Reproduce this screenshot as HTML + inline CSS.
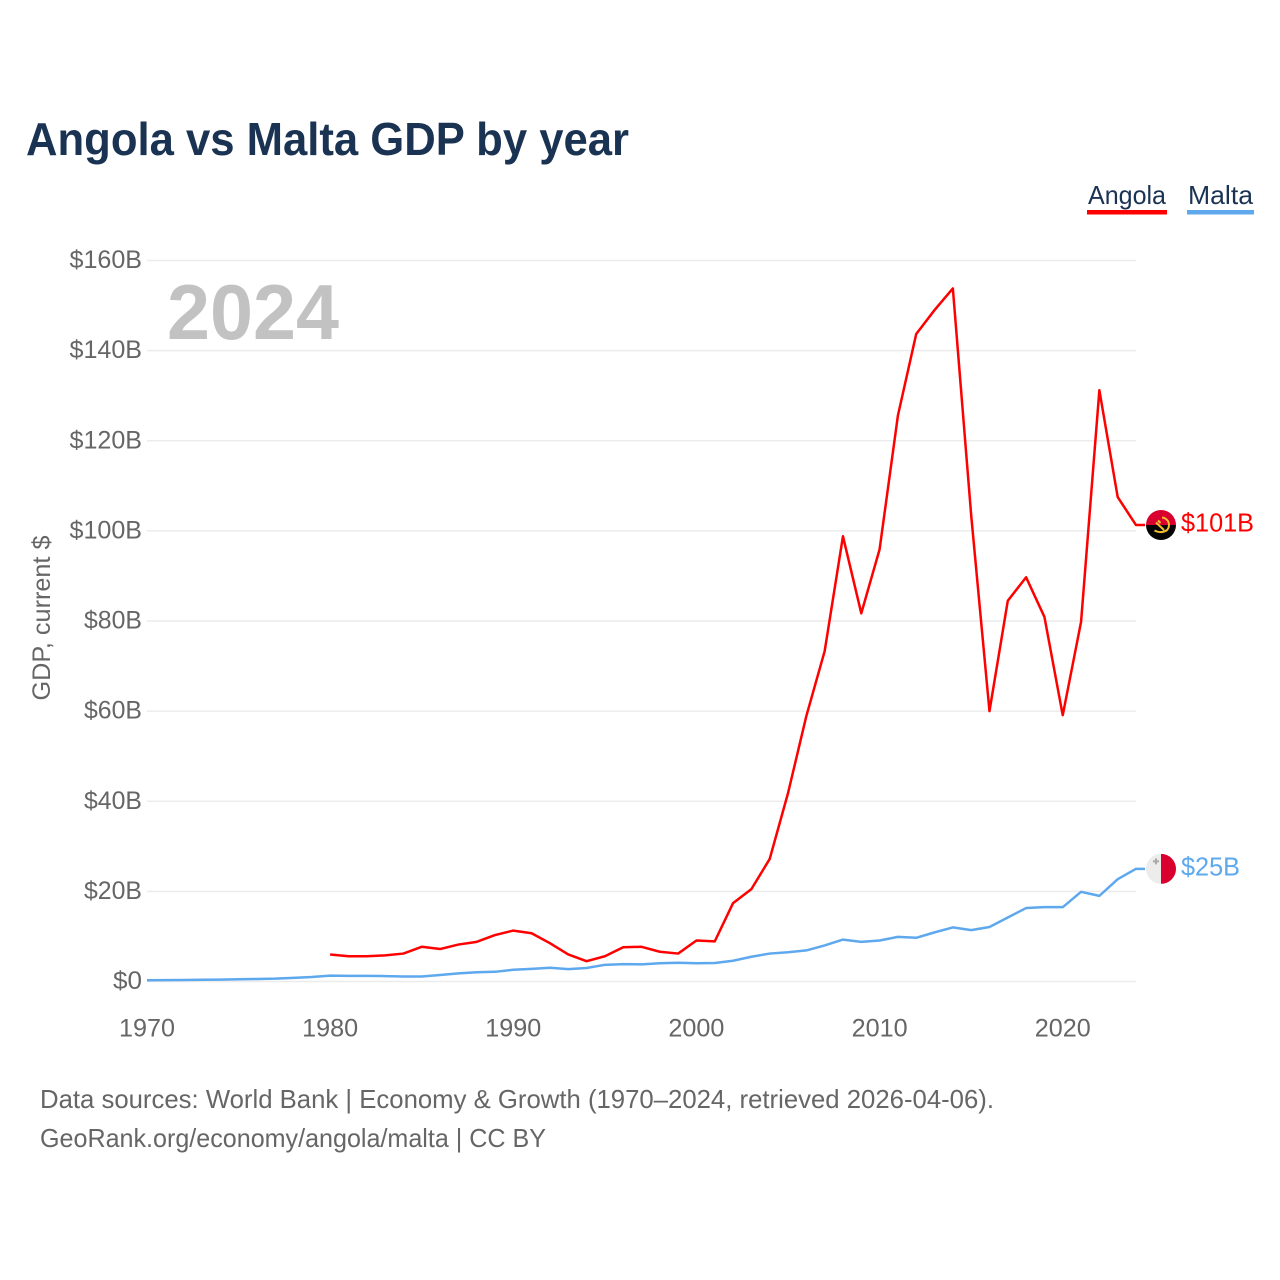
<!DOCTYPE html>
<html lang="en">
<head>
<meta charset="utf-8">
<title>Angola vs Malta GDP by year</title>
<style>
html,body{margin:0;padding:0;background:#fff;width:1280px;height:1280px;overflow:hidden}
svg{display:block}
text{font-family:"Liberation Sans",sans-serif}
</style>
</head>
<body>
<svg id="chart" xmlns="http://www.w3.org/2000/svg" width="1280" height="1280" viewBox="0 0 1280 1280">
  <defs>
    <clipPath id="flag-clip"><circle cx="0" cy="0" r="15"/></clipPath>
  </defs>
  <rect x="0" y="0" width="1280" height="1280" fill="#fff"/>
  <text x="26" y="155" font-size="46" font-weight="700" fill="#1a3352" textLength="603" lengthAdjust="spacingAndGlyphs">Angola vs Malta GDP by year</text>

  <g>
    <g>
      <text x="1088" y="204" font-size="26" fill="#1a3352" textLength="78" lengthAdjust="spacingAndGlyphs">Angola</text>
      <rect x="1087" y="210" width="80" height="4.5" fill="#ff0000"/>
    </g>
    <g>
      <text x="1188" y="204" font-size="26" fill="#1a3352" textLength="65" lengthAdjust="spacingAndGlyphs">Malta</text>
      <rect x="1187" y="210" width="67" height="4.5" fill="#5ea8ee"/>
    </g>
  </g>

  <g id="grid"></g>
  <g id="y-axis"></g>
  <g id="x-axis"></g>

  <text transform="translate(50,618) rotate(-90)" text-anchor="middle" font-size="25" fill="#666" textLength="165" lengthAdjust="spacingAndGlyphs">GDP, current $</text>
  <text x="167" y="339" font-size="78" font-weight="700" fill="#c2c2c2" textLength="172" lengthAdjust="spacingAndGlyphs">2024</text>

  <g id="series"></g>

  <g id="flag-angola">
    <g clip-path="url(#flag-clip)">
      <rect x="-15" y="-15" width="30" height="15" fill="#d9002f"/>
      <rect x="-15" y="0" width="30" height="15" fill="#050505"/>
      <path d="M1-7.5A7.5 7.5 0 0 1 5 6 M-6.5 5.5Q0 9 6 5 M-5-2.5L3 5 M-3-4.5L-0.5-2" fill="none" stroke="#f5c030" stroke-width="2"/>
    </g>
  </g>
  <g id="flag-malta">
    <g clip-path="url(#flag-clip)">
      <rect x="-15" y="-15" width="15" height="30" fill="#ececec"/>
      <rect x="0" y="-15" width="15" height="30" fill="#d9002f"/>
      <path d="M-5-10.5V-4.5M-8-7.5H-2" stroke="#a9a9a9" stroke-width="2" fill="none"/>
    </g>
  </g>

  <text id="end-label-angola" x="1181" font-size="26" fill="#ff0000" textLength="73" lengthAdjust="spacingAndGlyphs"></text>
  <text id="end-label-malta" x="1181" font-size="26" fill="#5ea8ee" textLength="59" lengthAdjust="spacingAndGlyphs"></text>

  <g>
    <text x="40" y="1108" font-size="26" fill="#666" textLength="954" lengthAdjust="spacingAndGlyphs">Data sources: World Bank | Economy &amp; Growth (1970–2024, retrieved 2026-04-06).</text>
    <text x="40" y="1147" font-size="26" fill="#666" textLength="506" lengthAdjust="spacingAndGlyphs">GeoRank.org/economy/angola/malta | CC BY</text>
  </g>
</svg>
<script>
const yTicks = [0, 20, 40, 60, 80, 100, 120, 140, 160];
const xTicks = [1970, 1980, 1990, 2000, 2010, 2020];
const angolaStartYear = 1980;
const angolaValues = [6.0, 5.6, 5.6, 5.8, 6.2, 7.7, 7.2, 8.2, 8.8, 10.3, 11.3, 10.7, 8.5, 6.0, 4.5, 5.6, 7.6, 7.7, 6.6, 6.2, 9.1, 8.9, 17.4, 20.5, 27.2, 41.8, 58.9, 73.3, 98.8, 81.7, 95.9, 125.6, 143.7, 149.0, 153.8, 103.5, 60.0, 84.5, 89.7, 80.9, 59.1, 79.8, 131.2, 107.5, 101.3];
const maltaStartYear = 1970;
const maltaValues = [0.28, 0.30, 0.33, 0.38, 0.42, 0.50, 0.55, 0.63, 0.80, 1.0, 1.3, 1.25, 1.25, 1.2, 1.1, 1.1, 1.45, 1.8, 2.05, 2.15, 2.6, 2.8, 3.05, 2.75, 3.0, 3.7, 3.85, 3.8, 4.05, 4.15, 4.05, 4.1, 4.6, 5.5, 6.2, 6.5, 6.9, 8.0, 9.3, 8.8, 9.1, 9.9, 9.7, 10.9, 12.0, 11.4, 12.1, 14.2, 16.3, 16.5, 16.5, 19.9, 19.0, 22.7, 25.0];

const NS = 'http://www.w3.org/2000/svg';
const xScale = year => 147 + (year - 1970) * (1136 - 147) / 54;
const yScale = value => 981.5 - value * (981.5 - 260.5) / 160;
const charWidth = 14.5;

function make(tag, parent, attrs) {
  const el = document.createElementNS(NS, tag);
  for (const k in attrs) el.setAttribute(k, attrs[k]);
  parent.appendChild(el);
  return el;
}

const grid = document.getElementById('grid');
const yAxis = document.getElementById('y-axis');
const xAxis = document.getElementById('x-axis');
const series = document.getElementById('series');

yTicks.forEach(v => {
  const line = make('line', grid, {x1: 147, x2: 1136, y1: yScale(v), y2: yScale(v), stroke: '#ececec', 'stroke-width': 1.5});
  
  
  const str = v === 0 ? '$0' : '$' + v + 'B';
  const label = make('text', yAxis, {x: 142, y: yScale(v) + 7.5, 'text-anchor': 'end', 'font-size': 25, fill: '#666', textLength: str.length * charWidth, lengthAdjust: 'spacingAndGlyphs'});
  label.textContent = str;
  
  
});

xTicks.forEach(y => {
  const label = make('text', xAxis, {x: xScale(y), y: 1036.5, 'text-anchor': 'middle', 'font-size': 25, fill: '#666', textLength: 56, lengthAdjust: 'spacingAndGlyphs'});
  label.textContent = String(y);
  
  
});

function linePoints(startYear, values) {
  return values.map((v, i) => xScale(startYear + i).toFixed(2) + ',' + yScale(v).toFixed(2));
}

function drawEnd(values, startYear, color, flagId, labelId) {
  const last = values[values.length - 1];
  const endY = yScale(last);
  const endX = xScale(startYear + values.length - 1);
  const pts = linePoints(startYear, values);
  pts.push((endX + 9) + ',' + endY.toFixed(2));
  const poly = make('polyline', series, {points: pts.join(' '), fill: 'none', stroke: color, 'stroke-width': 2.5, 'stroke-linejoin': 'round'});
  document.getElementById(flagId).setAttribute('transform', 'translate(' + (endX + 25) + ',' + endY + ')');
  const label = document.getElementById(labelId);
  label.setAttribute('y', endY + 6.5);
  label.textContent = '$' + Math.round(last) + 'B';
  return poly;
}

const angolaLine = drawEnd(angolaValues, angolaStartYear, '#ff0000', 'flag-angola', 'end-label-angola');


const maltaLine = drawEnd(maltaValues, maltaStartYear, '#5ea8ee', 'flag-malta', 'end-label-malta');


</script>
</body>
</html>
